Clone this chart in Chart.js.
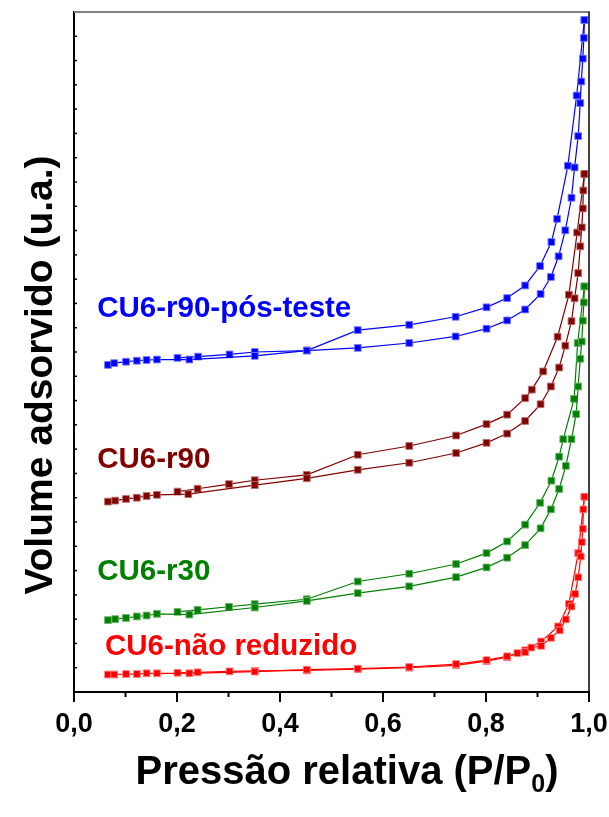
<!DOCTYPE html>
<html>
<head>
<meta charset="utf-8">
<script src="https://cdn.jsdelivr.net/npm/chart.js@4.4.1/dist/chart.umd.min.js"></script>
<style>
  body { margin: 0; background: #fff; }
  #wrap { width: 609px; height: 817px; }
</style>
</head>
<body>
<div id="wrap"><canvas id="chart" width="609" height="817"></canvas></div>
<script>
// relative pressure (P/P0) and adsorbed volume (arbitrary units)
const posTesteAdsP = [0.066, 0.078, 0.101, 0.122, 0.141, 0.161, 0.224, 0.351, 0.452, 0.551, 0.651, 0.741, 0.801, 0.841, 0.876, 0.906, 0.926, 0.941, 0.954, 0.966, 0.972, 0.979, 0.983, 0.985, 0.988, 0.990, 0.991];
const posTesteAdsV = [13.47, 13.54, 13.60, 13.64, 13.67, 13.69, 13.69, 13.84, 14.06, 14.17, 14.37, 14.64, 14.96, 15.30, 15.75, 16.39, 17.09, 17.94, 19.01, 20.35, 21.60, 22.89, 24.25, 25.14, 26.08, 26.93, 27.67];
const posTesteDesP = [0.991, 0.976, 0.959, 0.938, 0.927, 0.905, 0.876, 0.841, 0.801, 0.741, 0.651, 0.551, 0.452, 0.351, 0.302, 0.241, 0.201];
const posTesteDesV = [27.67, 24.56, 21.67, 19.48, 18.53, 17.54, 16.74, 16.22, 15.84, 15.45, 15.12, 14.90, 14.06, 14.00, 13.90, 13.81, 13.76];

const r90AdsP = [0.066, 0.080, 0.101, 0.122, 0.141, 0.161, 0.222, 0.351, 0.452, 0.551, 0.651, 0.742, 0.801, 0.841, 0.876, 0.906, 0.926, 0.942, 0.954, 0.966, 0.972, 0.979, 0.983, 0.986, 0.988, 0.989, 0.991];
const r90AdsV = [7.84, 7.88, 7.95, 8.00, 8.07, 8.12, 8.15, 8.52, 8.80, 9.15, 9.44, 9.84, 10.26, 10.64, 11.16, 11.85, 12.58, 13.36, 14.26, 15.27, 16.21, 17.25, 18.35, 19.13, 19.91, 20.65, 21.33];
const r90DesP = [0.991, 0.977, 0.961, 0.939, 0.911, 0.889, 0.876, 0.841, 0.801, 0.742, 0.651, 0.551, 0.452, 0.351, 0.301, 0.240, 0.201];
const r90DesV = [21.33, 18.92, 16.36, 14.63, 13.20, 12.45, 12.10, 11.42, 11.03, 10.56, 10.13, 9.77, 8.94, 8.72, 8.56, 8.37, 8.25];

const r30AdsP = [0.066, 0.080, 0.101, 0.122, 0.141, 0.161, 0.224, 0.351, 0.452, 0.551, 0.651, 0.742, 0.801, 0.841, 0.876, 0.906, 0.926, 0.942, 0.955, 0.966, 0.975, 0.979, 0.983, 0.986, 0.988, 0.990, 0.991];
const r30AdsV = [2.96, 3.00, 3.05, 3.11, 3.15, 3.22, 3.19, 3.48, 3.75, 4.07, 4.35, 4.73, 5.13, 5.53, 6.05, 6.74, 7.52, 8.36, 9.31, 10.41, 11.44, 12.58, 13.72, 14.43, 15.29, 16.04, 16.70];
const r30DesP = [0.991, 0.978, 0.971, 0.950, 0.942, 0.927, 0.905, 0.876, 0.841, 0.801, 0.742, 0.651, 0.551, 0.452, 0.351, 0.301, 0.240, 0.201];
const r30DesV = [16.70, 14.37, 12.07, 10.41, 9.69, 8.70, 7.79, 6.89, 6.20, 5.72, 5.27, 4.87, 4.55, 3.82, 3.62, 3.51, 3.38, 3.30];

const naoRedAdsP = [0.066, 0.078, 0.101, 0.122, 0.141, 0.161, 0.224, 0.351, 0.452, 0.551, 0.651, 0.742, 0.801, 0.841, 0.861, 0.876, 0.888, 0.907, 0.926, 0.943, 0.955, 0.966, 0.973, 0.979, 0.984, 0.986, 0.988, 0.989, 0.991];
const naoRedAdsV = [0.72, 0.72, 0.74, 0.74, 0.77, 0.77, 0.77, 0.84, 0.92, 0.96, 1.03, 1.15, 1.31, 1.47, 1.60, 1.64, 1.83, 1.90, 2.23, 2.54, 2.99, 3.52, 4.04, 4.72, 5.58, 6.17, 6.72, 7.52, 8.04];
const naoRedDesP = [0.991, 0.979, 0.961, 0.940, 0.907, 0.876, 0.841, 0.801, 0.742, 0.651, 0.551, 0.452, 0.351, 0.302, 0.240, 0.201];
const naoRedDesV = [8.04, 5.72, 3.63, 2.70, 2.08, 1.72, 1.43, 1.27, 1.10, 1.00, 0.94, 0.89, 0.87, 0.85, 0.81, 0.79];

const sampleNames = ['CU6-r90-pós-teste', 'CU6-r90', 'CU6-r30', 'CU6-não reduzido'];
const xTickValues = [0, 0.2, 0.4, 0.6, 0.8, 1.0];

const FONT = '"Liberation Sans", Arial, Helvetica, sans-serif';
const colors = ['#0000ff', '#800000', '#008000', '#ff0000'];
const edgeColors = ['rgba(120,120,255,0.9)', 'rgba(190,110,110,0.9)', 'rgba(110,180,110,0.9)', 'rgba(255,130,130,0.9)'];

// where each sample name is written (data coords of the text's left baseline)
const labelAnchors = [[0.045, 15.46], [0.045, 9.21], [0.045, 4.60], [0.060, 1.51]];

function pairs(p, v) {
  return p.map((x, i) => ({ x: x, y: v[i] }));
}

function makeSet(p, v, idx) {
  return {
    data: pairs(p, v),
    showLine: true,
    borderColor: colors[idx],
    borderWidth: 1.2,
    backgroundColor: colors[idx],
    pointStyle: 'rect',
    pointRadius: 4.8,
    pointBorderWidth: 1,
    pointBorderColor: edgeColors[idx],
    pointBackgroundColor: colors[idx]
  };
}

const extras = {
  id: 'extras',
  afterDraw(chart) {
    const ctx = chart.ctx;
    const area = chart.chartArea;
    const xs = chart.scales.x;
    const ys = chart.scales.y;
    ctx.save();

    // top (grey) and right (black) frame
    ctx.lineWidth = 2;
    ctx.strokeStyle = '#808080';
    ctx.beginPath();
    ctx.moveTo(area.left, area.top);
    ctx.lineTo(area.right + 1, area.top);
    ctx.stroke();
    ctx.lineWidth = 1.5;
    ctx.strokeStyle = '#000';
    ctx.beginPath();
    ctx.moveTo(area.right, area.top);
    ctx.lineTo(area.right, area.bottom);
    ctx.stroke();

    // x ticks, outward, major every 0.2
    ctx.lineWidth = 2;
    for (let i = 0; i <= 10; i++) {
      const px = xs.getPixelForValue(i / 10);
      const len = i % 2 === 0 ? 10 : 5;
      ctx.beginPath();
      ctx.moveTo(px, area.bottom);
      ctx.lineTo(px, area.bottom + len);
      ctx.stroke();
    }

    // y ticks, inward, no labels
    ctx.lineWidth = 1.5;
    for (let i = 1; i < 28; i++) {
      const py = ys.getPixelForValue(i);
      ctx.beginPath();
      ctx.moveTo(area.left, py);
      ctx.lineTo(area.left + 3, py);
      ctx.stroke();
    }

    // sample names
    ctx.font = 'bold 29.5px ' + FONT;
    ctx.textAlign = 'left';
    ctx.textBaseline = 'alphabetic';
    sampleNames.forEach((name, i) => {
      ctx.fillStyle = colors[i];
      ctx.fillText(name, xs.getPixelForValue(labelAnchors[i][0]), ys.getPixelForValue(labelAnchors[i][1]));
    });

    // axis titles
    ctx.fillStyle = '#000';
    ctx.font = 'bold 39px ' + FONT;
    ctx.save();
    ctx.translate(52, 375);
    ctx.rotate(-Math.PI / 2);
    ctx.textAlign = 'center';
    ctx.fillText('Volume adsorvido (u.a.)', 0, 0);
    ctx.restore();

    const main = 'Pressão relativa (P/P';
    ctx.font = 'bold 40px ' + FONT;
    const w1 = ctx.measureText(main).width;
    const w3 = ctx.measureText(')').width;
    ctx.font = 'bold 25px ' + FONT;
    const w2 = ctx.measureText('0').width;
    let x0 = 347 - (w1 + w2 + w3) / 2;
    const base = 784;
    ctx.textAlign = 'left';
    ctx.font = 'bold 40px ' + FONT;
    ctx.fillText(main, x0, base);
    ctx.font = 'bold 25px ' + FONT;
    ctx.fillText('0', x0 + w1, base + 8);
    ctx.font = 'bold 40px ' + FONT;
    ctx.fillText(')', x0 + w1 + w2, base);

    ctx.restore();
  }
};

new Chart(document.getElementById('chart'), {
  type: 'scatter',
  data: {
    datasets: [
      makeSet(posTesteAdsP, posTesteAdsV, 0),
      makeSet(posTesteDesP, posTesteDesV, 0),
      makeSet(r90AdsP, r90AdsV, 1),
      makeSet(r90DesP, r90DesV, 1),
      makeSet(r30AdsP, r30AdsV, 2),
      makeSet(r30DesP, r30DesV, 2),
      makeSet(naoRedAdsP, naoRedAdsV, 3),
      makeSet(naoRedDesP, naoRedDesV, 3)
    ]
  },
  options: {
    responsive: false,
    animation: false,
    layout: { padding: { top: 12, right: 20, left: 0, bottom: 0 } },
    plugins: { legend: { display: false }, tooltip: { enabled: false } },
    scales: {
      x: {
        type: 'linear',
        min: 0,
        max: 1,
        afterBuildTicks: (scale) => { scale.ticks = xTickValues.map(v => ({ value: v })); },
        afterFit: (scale) => {
          scale.height = 125;
          scale.paddingLeft = 0;
          scale.paddingRight = 0;
        },
        ticks: {
          color: '#000',
          padding: 16,
          maxRotation: 0,
          autoSkip: false,
          font: { family: FONT, size: 27, weight: 'bold' },
          callback: (v) => Number(v).toFixed(1).replace('.', ',')
        },
        grid: { display: false, drawTicks: false },
        border: { display: true, color: '#000', width: 2 }
      },
      y: {
        type: 'linear',
        min: 0,
        max: 28,
        afterFit: (scale) => { scale.width = 74; },
        ticks: { display: false },
        grid: { display: false, drawTicks: false },
        border: { display: true, color: '#000', width: 2 }
      }
    }
  },
  plugins: [extras]
});
</script>
</body>
</html>
